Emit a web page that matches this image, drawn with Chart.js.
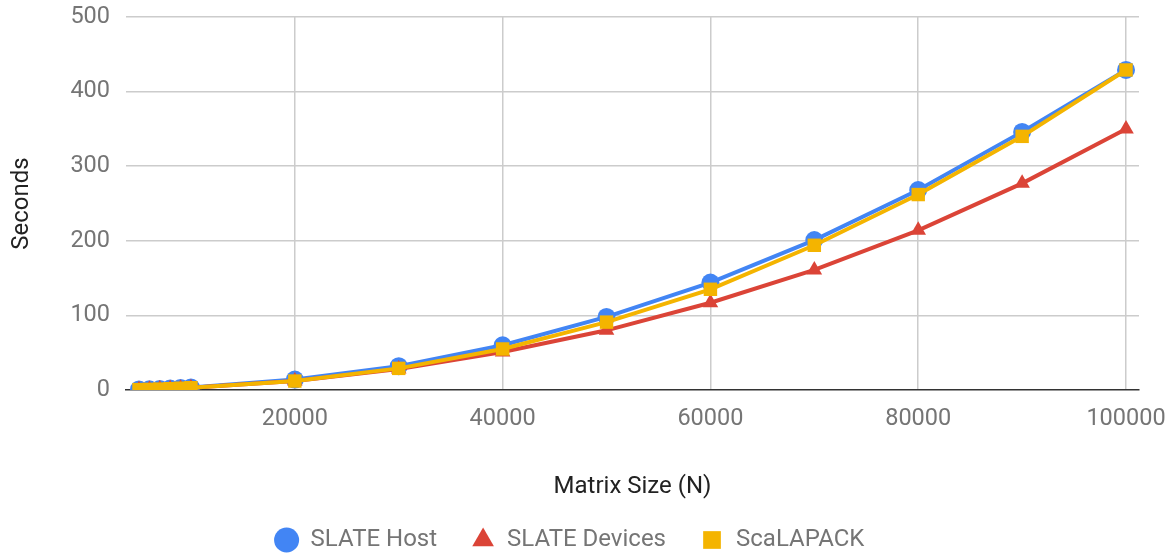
<!DOCTYPE html>
<html><head><meta charset="utf-8">
<script src="https://cdn.jsdelivr.net/npm/chart.js@4/dist/chart.umd.min.js"></script>
<style>html,body{margin:0;padding:0;background:#fff}#wrap{width:1175px;height:554px;position:relative}</style>
</head><body><div id="wrap"><canvas id="c"></canvas></div>
<script>
const matrixSizes=[5000,6000,7000,8000,9000,10000,20000,30000,40000,50000,60000,70000,80000,90000,100000];
const slateHost=[0.7,1.0,1.4,2.0,2.7,3.5,14,32,60,98,144,201,268,346,429];
const slateDevices=[0.5,0.8,1.2,1.7,2.3,3.0,12,28,51,80,117,161,214,277,350];
const scalapack=[0.5,0.8,1.2,1.7,2.4,3.1,12,29,55,91,135,194,262,340,429];
const xTicks=[20000,40000,60000,80000,100000];
const yTicks=[0,100,200,300,400,500];
const seriesNames=['SLATE Host','SLATE Devices','ScaLAPACK'];
const colors=['#4285F4','#DB4437','#F4B400'];
const styles=['circle','triangle','rect'];
const radii=[9,9,9.5];
const values=[slateHost,slateDevices,scalapack];

const FONT='Roboto';
const datasets=values.map((v,i)=>({
  label:seriesNames[i],
  data:matrixSizes.map((x,j)=>({x:x,y:v[j]})),
  borderColor:colors[i],backgroundColor:colors[i],
  pointBackgroundColor:colors[i],pointBorderColor:colors[i],
  pointBorderWidth:0,pointStyle:styles[i],pointRadius:radii[i],pointHoverRadius:radii[i],
  borderWidth:4,tension:0,order:3-i
}));

const legendHeightFix={
  id:'legendHeightFix',
  afterInit(chart){
    const lg=chart.legend;
    if(!lg||lg._patched) return;
    const orig=lg.fit.bind(lg);
    lg.fit=function(){orig();this.height=60;};
    lg._patched=true;
  }
};

new Chart(document.getElementById('c'),{
  type:'line',
  data:{datasets:datasets},
  plugins:[legendHeightFix],
  options:{
    responsive:true,maintainAspectRatio:false,animation:false,
    layout:{padding:{left:0,right:36,top:17,bottom:0}},
    plugins:{
      tooltip:{enabled:false},
      legend:{
        position:'bottom',
        labels:{
          usePointStyle:true,boxHeight:17.7,boxWidth:24,padding:34,
          color:'#757575',font:{family:FONT,size:24},
          generateLabels:(chart)=>chart.data.datasets.map((d,i)=>({
            text:d.label,fillStyle:colors[i],strokeStyle:colors[i],lineWidth:0,
            pointStyle:styles[i],datasetIndex:i,hidden:false,fontColor:'#757575'
          }))
        }
      }
    },
    scales:{
      x:{
        type:'linear',min:3750,max:101250,
        afterBuildTicks:(s)=>{s.ticks=xTicks.map(v=>({value:v}));},
        afterFit:(s)=>{s.height=104;s.paddingLeft=0;s.paddingRight=0;},
        ticks:{color:'#757575',font:{family:FONT,size:23.5},padding:15,maxRotation:0,autoSkip:false,callback:(v)=>String(v)},
        grid:{color:'#cccccc',lineWidth:1.5,drawTicks:false},
        border:{display:true,color:'#333333',width:1.5},
        title:{display:true,text:'Matrix Size (N)',color:'#222222',font:{family:FONT,size:24},padding:{top:0,bottom:-7}}
      },
      y:{
        min:0,max:500,
        afterBuildTicks:(s)=>{s.ticks=yTicks.map(v=>({value:v}));},
        afterFit:(s)=>{s.width=126;s.paddingTop=0;s.paddingBottom=0;},
        ticks:{color:'#757575',font:{family:FONT,size:23.5},padding:16,callback:(v)=>String(v)},
        grid:{color:(ctx)=>ctx.tick&&ctx.tick.value===0?'rgba(0,0,0,0)':'#cccccc',lineWidth:1.5,drawTicks:false},
        border:{display:false},
        title:{display:true,text:'Seconds',color:'#222222',font:{family:FONT,size:24},padding:{top:8,bottom:0}}
      }
    }
  }
});
</script></body></html>
